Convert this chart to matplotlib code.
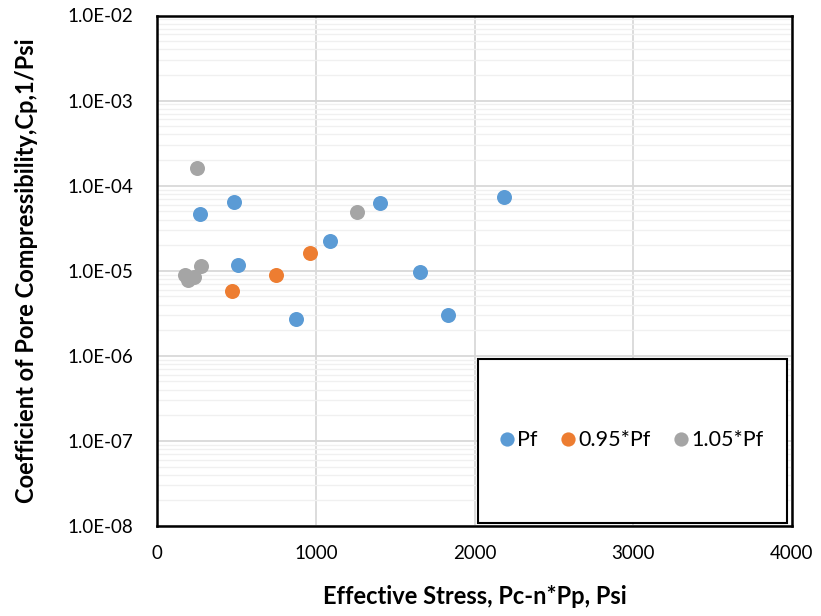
import matplotlib
matplotlib.use("Agg")
import matplotlib.pyplot as plt
from matplotlib.patches import Rectangle
from matplotlib.lines import Line2D
from matplotlib.ticker import FixedLocator, FuncFormatter, LogLocator, NullFormatter

plt.rcParams['font.family'] = ['Lato', 'DejaVu Sans']

# Data
pf_x = [271, 485, 508, 878, 1091, 1406, 1655, 1834, 2187]
pf_y = [4.69e-5, 6.43e-5, 1.18e-5, 2.74e-6, 2.23e-5, 6.31e-5, 9.73e-6, 3.03e-6, 7.36e-5]

p095_x = [475, 752, 962]
p095_y = [5.77e-6, 8.97e-6, 1.60e-5]

p105_x = [255, 1262, 280, 175, 195, 233]
p105_y = [1.61e-4, 4.88e-5, 1.14e-5, 8.89e-6, 7.78e-6, 8.49e-6]

series_names = ['Pf', '0.95*Pf', '1.05*Pf']
colors = ['#5B9BD5', '#ED7D31', '#A5A5A5']

x_ticks = [0, 1000, 2000, 3000, 4000]
y_ticks = [1e-8, 1e-7, 1e-6, 1e-5, 1e-4, 1e-3, 1e-2]

W, H = 821, 616
fig = plt.figure(figsize=(W / 100, H / 100), dpi=100)
left, right, top, bottom = 157, 792, 15.5, 526
ax = fig.add_axes([left / W, 1 - bottom / H, (right - left) / W, (bottom - top) / H])

ax.set_yscale('log')
ax.set_xlim(0, 4000)
ax.set_ylim(1e-8, 1e-2)

ms = 10.8
for xs, ys, c in zip([pf_x, p095_x, p105_x], [pf_y, p095_y, p105_y], colors):
    ax.plot(xs, ys, 'o', color=c, markersize=ms, markeredgewidth=0, zorder=3)

ax.xaxis.set_major_locator(FixedLocator(x_ticks))
ax.yaxis.set_major_locator(FixedLocator(y_ticks))
ax.yaxis.set_minor_locator(LogLocator(base=10, subs=range(2, 10), numticks=100))
ax.yaxis.set_minor_formatter(NullFormatter())

ax.yaxis.set_major_formatter(FuncFormatter(lambda v, p: "%.1E" % v))
ax.xaxis.set_major_formatter(FuncFormatter(lambda v, p: "%d" % v))

ax.grid(True, which='major', axis='both', color='#D9D9D9', linewidth=1.3, zorder=1)
ax.grid(True, which='minor', axis='y', color='#F0F0F0', linewidth=1.0, zorder=0)
ax.set_axisbelow(True)

ax.tick_params(axis='both', which='both', length=0, labelsize=13.5, colors='black')
ax.tick_params(axis='y', pad=17)
ax.tick_params(axis='x', pad=14)

for sp in ax.spines.values():
    sp.set_color('black')
    sp.set_linewidth(1.8)

ax.set_xlabel('Effective Stress, Pc-n*Pp, Psi', fontsize=17, fontweight='bold')
ax.set_ylabel('Coefficient of Pore Compressibility,Cp,1/Psi', fontsize=17, fontweight='bold')
ax.xaxis.label.set_va('center')
ax.xaxis.set_label_coords(0.5, -(597 - bottom) / (bottom - top))
ax.yaxis.label.set_va('center')
ax.yaxis.set_label_coords(-(left - 27) / (right - left), 0.5)

# Legend box
lx0, lx1, ly0, ly1 = 477.5, 786.5, 359, 522.5
rect = Rectangle((lx0 / W, 1 - ly1 / H), (lx1 - lx0) / W, (ly1 - ly0) / H,
                 transform=fig.transFigure, facecolor='white', edgecolor='black',
                 linewidth=1.5, zorder=5)
fig.patches.append(rect)

handles = [Line2D([], [], marker='o', linestyle='none', color=c, markersize=ms * 0.95,
                  markeredgewidth=0) for c in colors]
leg = fig.legend(handles, series_names, loc='center',
                 bbox_to_anchor=((lx0 + lx1) / 2 / W, 1 - 440.5 / H),
                 bbox_transform=fig.transFigure, ncol=3, frameon=False,
                 fontsize=15.5, handlelength=0.6, handletextpad=0.2, columnspacing=1.1)
leg.set_zorder(6)

fig.savefig('out.png', dpi=100)
